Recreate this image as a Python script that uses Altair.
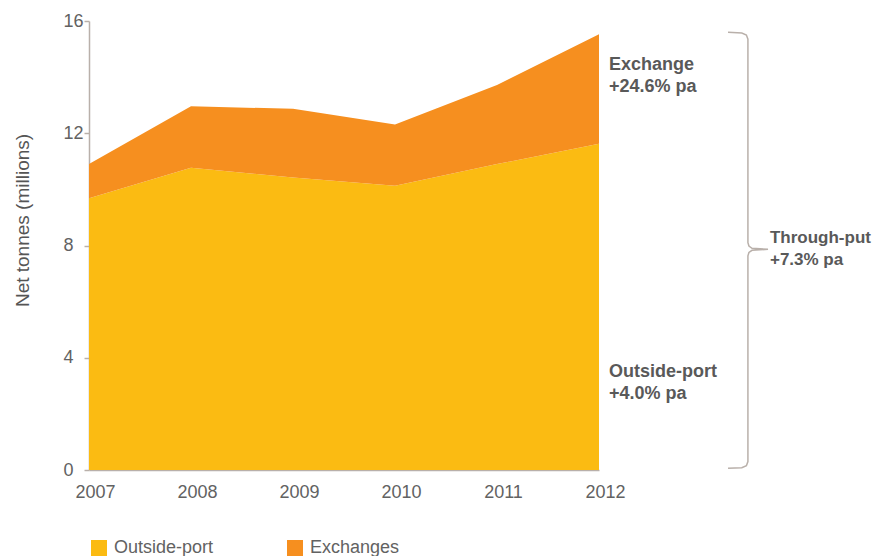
import altair as alt
import pandas as pd

# ---- data ----
years = [2007, 2008, 2009, 2010, 2011, 2012]
outside_port = [9.68, 10.77, 10.42, 10.13, 10.90, 11.63]
exchanges = [1.22, 2.19, 2.45, 2.18, 2.82, 3.90]
series_names = ["Outside-port", "Exchanges"]
series_colors = ["#fbbb12", "#f68f1f"]

y_ticks = [0, 4, 8, 12, 16]

# annotation texts next to the areas (anchored in data units: year, million tonnes)
ann_text = ["Exchange", "+24.6% pa", "Outside-port", "+4.0% pa"]
ann_x = [2012.098, 2012.098, 2012.098, 2012.098]
ann_y = [14.25, 13.47, 3.30, 2.53]

# annotation next to the brace
brace_text = ["Through-put", "+7.3% pa"]
brace_text_x = [2013.676, 2013.676]
brace_text_y = [8.08, 7.31]

# curly brace outline spanning total through-put (data units)
brace_x = [2013.265, 2013.40, 2013.445, 2013.46, 2013.46, 2013.47, 2013.50, 2013.657,
           2013.50, 2013.47, 2013.46, 2013.46, 2013.445, 2013.40, 2013.265]
brace_y = [15.60, 15.57, 15.50, 15.35, 8.10, 7.98, 7.90, 7.865,
           7.83, 7.75, 7.63, 0.30, 0.15, 0.08, 0.06]

rows = []
for i, yr in enumerate(years):
    rows.append({"year": yr, "series": series_names[0], "value": outside_port[i], "ord": 0})
    rows.append({"year": yr, "series": series_names[1], "value": exchanges[i], "ord": 1})
df = pd.DataFrame(rows)
ann_df = pd.DataFrame({"x": ann_x, "y": ann_y, "label": ann_text})
ann2_df = pd.DataFrame({"x": brace_text_x, "y": brace_text_y, "label": brace_text})
brace_df = pd.DataFrame({"x": brace_x, "y": brace_y, "i": list(range(len(brace_x)))})

FONT = "Liberation Sans"
AXIS_COL = "#b9b0aa"
LABEL_COL = "#626262"

x_scale = alt.Scale(domain=[2007, 2012], nice=False, zero=False)
y_scale = alt.Scale(domain=[0, 16], nice=False)

area = alt.Chart(df).mark_area(opacity=1).encode(
    x=alt.X("year:Q", scale=x_scale,
            axis=alt.Axis(values=years, format="d", title=None, ticks=False,
                          labelPadding=13, labelFontSize=18, labelColor=LABEL_COL,
                          labelFont=FONT, labelOffset=6,
                          domainColor=AXIS_COL, domainWidth=1.5,
                          grid=False, labelFlush=False)),
    y=alt.Y("value:Q", stack="zero", scale=y_scale,
            axis=alt.Axis(values=y_ticks, title="Net tonnes (millions)", grid=False,
                          tickSize=5, tickColor=AXIS_COL, tickWidth=1.5,
                          domainColor=AXIS_COL, domainWidth=1.5,
                          labelAlign="left", labelPadding=21,
                          labelFontSize=18, labelColor=LABEL_COL,
                          labelFont=FONT, titleFont=FONT, titleFontSize=19,
                          titleFontWeight="normal", titleColor="#555555",
                          titleX=-67, titleY=199, titleBaseline="middle")),
    color=alt.Color("series:N",
                    scale=alt.Scale(domain=series_names, range=series_colors),
                    legend=alt.Legend(title=None, orient="none", direction="horizontal",
                                      legendX=1, legendY=518, symbolType="square",
                                      symbolSize=256, symbolStrokeWidth=0,
                                      symbolOpacity=1, labelFontSize=18,
                                      labelFont=FONT, labelColor=LABEL_COL,
                                      labelOffset=6, columnPadding=72)),
    order=alt.Order("ord:Q"),
)

brace = alt.Chart(brace_df).mark_line(color=AXIS_COL, strokeWidth=1.5, clip=False).encode(
    x=alt.X("x:Q", scale=x_scale),
    y=alt.Y("y:Q", scale=y_scale),
    order=alt.Order("i:Q"),
)

ann = alt.Chart(ann_df).mark_text(align="left", baseline="alphabetic", fontSize=18,
                                  fontWeight="bold", font=FONT, color="#595959").encode(
    x=alt.X("x:Q", scale=x_scale),
    y=alt.Y("y:Q", scale=y_scale),
    text="label:N",
)

ann2 = alt.Chart(ann2_df).mark_text(align="left", baseline="alphabetic", fontSize=17,
                                    fontWeight="bold", font=FONT, color="#595959").encode(
    x=alt.X("x:Q", scale=x_scale),
    y=alt.Y("y:Q", scale=y_scale),
    text="label:N",
)

chart = alt.layer(area, brace, ann, ann2).properties(
    width=510, height=449,
    padding={"left": 81, "top": 13, "right": 273, "bottom": 86},
    autosize=alt.AutoSizeParams(type="none"),
).configure_view(stroke=None)

chart.save("out.html", embed_options={"renderer": "svg", "actions": False})
